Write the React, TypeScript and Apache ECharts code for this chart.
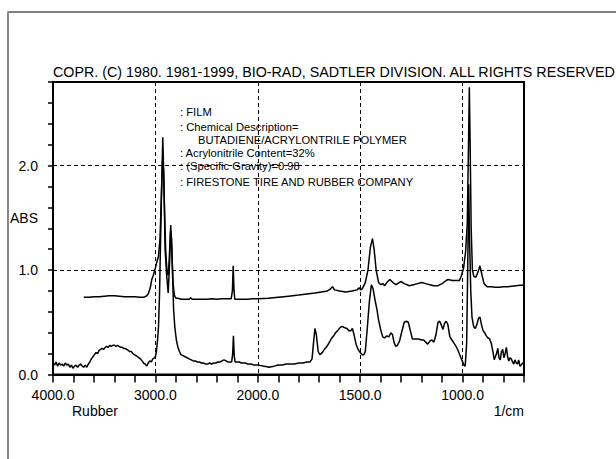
import React, { useEffect, useRef } from "react";
import * as echarts from "echarts";

// Sadtler-style IR spectrum: wavenumber (1/cm) vs absorbance, 2x expansion below 2000 1/cm
const titleText = "COPR. (C) 1980. 1981-1999, BIO-RAD, SADTLER DIVISION. ALL RIGHTS RESERVED";
const infoLines = [
  ": FILM",
  ": Chemical Description=",
  "BUTADIENE/ACRYLONTRILE POLYMER",
  ": Acrylonitrile Content=32%",
  ": (Specific Gravity)=0.98",
  ": FIRESTONE TIRE AND RUBBER COMPANY",
];
const xLabelValues = [4000, 3000, 2000, 1500, 1000];
const yLabelValues = [0, 1, 2];

// [wavenumber, absorbance]
const upperSpectrum: [number, number][] = [
  [3700, 0.74], [3650, 0.74], [3600, 0.745], [3550, 0.745], [3500, 0.75], [3450, 0.755],
  [3400, 0.755], [3350, 0.75], [3300, 0.745], [3250, 0.745], [3200, 0.745], [3150, 0.74],
  [3110, 0.74], [3090, 0.75], [3070, 0.77], [3050, 0.83], [3035, 0.91], [3020, 0.95],
  [3000, 1.02], [2985, 1.08], [2970, 1.13], [2955, 1.3], [2940, 1.75], [2928, 2.27],
  [2918, 1.9], [2905, 1.2], [2890, 0.95], [2875, 0.78], [2862, 1.05], [2850, 1.43],
  [2840, 1.2], [2828, 0.88], [2815, 0.76], [2800, 0.73], [2780, 0.73], [2750, 0.72],
  [2700, 0.72], [2670, 0.72], [2655, 0.735], [2640, 0.72], [2600, 0.72], [2550, 0.72],
  [2500, 0.72], [2450, 0.725], [2400, 0.72], [2350, 0.725], [2300, 0.725], [2260, 0.725],
  [2248, 0.8], [2240, 1.04], [2232, 0.8], [2225, 0.72], [2200, 0.72], [2150, 0.72],
  [2100, 0.72], [2050, 0.725], [2000, 0.725], [1950, 0.73], [1900, 0.74], [1850, 0.75],
  [1800, 0.76], [1760, 0.77], [1720, 0.78], [1690, 0.79], [1660, 0.8], [1645, 0.82],
  [1635, 0.84], [1625, 0.81], [1600, 0.8], [1570, 0.79], [1540, 0.8], [1515, 0.81],
  [1505, 0.83], [1498, 0.81], [1490, 0.82], [1475, 0.88], [1462, 1.0], [1450, 1.22],
  [1440, 1.3], [1432, 1.2], [1422, 1.0], [1410, 0.88], [1400, 0.86], [1390, 0.87],
  [1380, 0.85], [1370, 0.88], [1355, 0.91], [1340, 0.88], [1325, 0.86], [1310, 0.88],
  [1300, 0.89], [1285, 0.87], [1260, 0.85], [1240, 0.86], [1220, 0.87], [1200, 0.88],
  [1180, 0.87], [1160, 0.86], [1140, 0.85], [1120, 0.85], [1100, 0.87], [1080, 0.9],
  [1070, 0.91], [1050, 0.9], [1030, 0.9], [1015, 0.9], [1005, 0.95], [995, 1.02],
  [985, 1.18], [977, 1.45], [971, 2.2], [967, 2.75], [963, 2.2], [958, 1.4],
  [952, 1.0], [945, 0.94], [935, 0.93], [925, 0.98], [915, 1.04], [905, 0.95],
  [895, 0.87], [880, 0.84], [860, 0.84], [840, 0.835], [820, 0.835], [800, 0.84],
  [780, 0.84], [760, 0.845], [740, 0.85], [720, 0.855], [700, 0.855],
];

const lowerSpectrum: [number, number][] = [
  [4000, 0.11], [3985, 0.09], [3970, 0.12], [3955, 0.08], [3940, 0.11], [3925, 0.09],
  [3910, 0.1], [3895, 0.08], [3880, 0.11], [3865, 0.09], [3850, 0.1], [3835, 0.07],
  [3820, 0.09], [3805, 0.06], [3790, 0.08], [3775, 0.09], [3760, 0.07], [3745, 0.09],
  [3730, 0.1], [3715, 0.08], [3700, 0.07], [3685, 0.09], [3670, 0.07], [3655, 0.1],
  [3640, 0.12], [3625, 0.15], [3610, 0.17], [3595, 0.19], [3580, 0.21], [3565, 0.2],
  [3550, 0.23], [3535, 0.24], [3520, 0.25], [3505, 0.24], [3490, 0.26], [3475, 0.27],
  [3460, 0.26], [3445, 0.28], [3430, 0.27], [3415, 0.28], [3400, 0.28], [3385, 0.27],
  [3370, 0.28], [3355, 0.27], [3340, 0.26], [3325, 0.26], [3310, 0.25], [3295, 0.25],
  [3280, 0.24], [3265, 0.23], [3250, 0.22], [3235, 0.22], [3220, 0.2], [3205, 0.19],
  [3190, 0.18], [3175, 0.17], [3160, 0.16], [3145, 0.15], [3130, 0.13], [3115, 0.11],
  [3100, 0.1], [3085, 0.08], [3070, 0.11], [3055, 0.13], [3040, 0.12], [3025, 0.15],
  [3010, 0.16], [3000, 0.17], [2990, 0.22], [2980, 0.32], [2970, 0.45], [2960, 0.75],
  [2950, 1.25], [2940, 1.75], [2930, 2.05], [2920, 1.95], [2910, 1.55], [2900, 1.2],
  [2888, 1.0], [2876, 0.95], [2865, 1.1], [2852, 1.38], [2842, 1.3], [2832, 0.95],
  [2822, 0.62], [2810, 0.45], [2795, 0.33], [2780, 0.26], [2765, 0.22], [2750, 0.19],
  [2730, 0.18], [2710, 0.17], [2690, 0.16], [2670, 0.15], [2650, 0.14], [2630, 0.13],
  [2610, 0.13], [2590, 0.12], [2570, 0.12], [2550, 0.11], [2530, 0.11], [2510, 0.1],
  [2490, 0.1], [2470, 0.11], [2450, 0.1], [2430, 0.11], [2410, 0.11], [2390, 0.12],
  [2370, 0.12], [2350, 0.13], [2330, 0.14], [2310, 0.13], [2290, 0.12], [2270, 0.12],
  [2255, 0.12], [2245, 0.2], [2238, 0.37], [2230, 0.18], [2222, 0.12], [2200, 0.12],
  [2180, 0.12], [2160, 0.11], [2140, 0.11], [2120, 0.11], [2100, 0.1], [2080, 0.1],
  [2060, 0.1], [2040, 0.09], [2020, 0.09], [2000, 0.09], [1985, 0.085], [1970, 0.08],
  [1955, 0.075], [1945, 0.07], [1935, 0.075], [1920, 0.08], [1900, 0.09], [1880, 0.09],
  [1860, 0.1], [1840, 0.1], [1820, 0.1], [1800, 0.11], [1780, 0.11], [1760, 0.12],
  [1745, 0.12], [1735, 0.15], [1728, 0.3], [1721, 0.44], [1714, 0.38], [1705, 0.22],
  [1697, 0.19], [1685, 0.21], [1675, 0.24], [1662, 0.27], [1650, 0.31], [1638, 0.35],
  [1629, 0.37], [1620, 0.4], [1610, 0.42], [1598, 0.45], [1588, 0.46], [1578, 0.45],
  [1565, 0.44], [1555, 0.42], [1545, 0.42], [1538, 0.44], [1530, 0.38], [1520, 0.29],
  [1510, 0.24], [1500, 0.21], [1490, 0.19], [1482, 0.19], [1475, 0.22], [1465, 0.45],
  [1455, 0.7], [1445, 0.86], [1437, 0.82], [1428, 0.72], [1418, 0.62], [1410, 0.52],
  [1400, 0.43], [1390, 0.36], [1380, 0.35], [1370, 0.37], [1360, 0.36], [1350, 0.4],
  [1342, 0.38], [1335, 0.31], [1327, 0.27], [1318, 0.28], [1308, 0.32], [1298, 0.4],
  [1285, 0.5], [1275, 0.51], [1265, 0.5], [1255, 0.42], [1245, 0.34], [1230, 0.34],
  [1215, 0.34], [1200, 0.33], [1190, 0.33], [1180, 0.31], [1170, 0.29], [1160, 0.32],
  [1150, 0.33], [1140, 0.31], [1130, 0.38], [1120, 0.5], [1112, 0.51], [1105, 0.48],
  [1096, 0.43], [1088, 0.49], [1080, 0.51], [1072, 0.48], [1062, 0.36], [1052, 0.33],
  [1042, 0.3], [1032, 0.27], [1022, 0.23], [1012, 0.18], [1002, 0.13], [993, 0.09],
  [987, 0.08], [980, 0.3], [975, 1.0], [970, 1.82], [966, 1.3], [960, 0.8],
  [954, 0.55], [946, 0.46], [938, 0.44], [930, 0.48], [922, 0.54], [915, 0.55],
  [908, 0.48], [900, 0.42], [892, 0.4], [884, 0.37], [876, 0.35], [868, 0.34],
  [860, 0.3], [852, 0.22], [845, 0.14], [840, 0.17], [834, 0.2], [828, 0.25],
  [822, 0.16], [816, 0.14], [810, 0.22], [804, 0.24], [798, 0.16], [792, 0.2],
  [786, 0.26], [780, 0.17], [774, 0.13], [768, 0.16], [762, 0.15], [756, 0.12],
  [750, 0.1], [744, 0.14], [738, 0.11], [732, 0.1], [726, 0.14], [720, 0.08],
  [714, 0.09], [708, 0.11], [702, 0.1], [700, 0.1],
];

// piecewise axis transform: 4000..2000 compressed 2x relative to 2000..700
const wnToU = (w: number) => (w >= 2000 ? (4000 - w) / 2 : 1000 + (2000 - w));
const uToWn = (u: number) => (u <= 1000 ? 4000 - 2 * u : 2000 - (u - 1000));

const FONT = "'Liberation Sans', Arial, Helvetica, sans-serif";

export default function App() {
  const ref = useRef<HTMLDivElement>(null);

  useEffect(() => {
    if (!ref.current) return;
    const chart = echarts.init(ref.current, null, { renderer: "svg" });
    const toData = (s: [number, number][]) => s.map(([w, a]) => [wnToU(w), a]);

    const graphics: any[] = [
      { type: "line", shape: { x1: 7.5, y1: 12, x2: 616, y2: 12 }, style: { stroke: "#000", lineWidth: 1 } },
      { type: "line", shape: { x1: 8, y1: 12, x2: 8, y2: 459 }, style: { stroke: "#888", lineWidth: 2 } },
      {
        type: "text", x: 53, y: 72,
        style: { text: titleText, font: `14.3px ${FONT}`, fill: "#000", verticalAlign: "middle", align: "left" },
      },
      {
        type: "text", x: 10, y: 218,
        style: { text: "ABS", font: `14px ${FONT}`, fill: "#000", verticalAlign: "middle", align: "left" },
      },
      {
        type: "text", x: 72, y: 411,
        style: { text: "Rubber", font: `14px ${FONT}`, fill: "#000", verticalAlign: "middle", align: "left" },
      },
      {
        type: "text", x: 524, y: 411,
        style: { text: "1/cm", font: `14px ${FONT}`, fill: "#000", verticalAlign: "middle", align: "right" },
      },
    ];
    const infoY = [112, 127, 140, 153, 166, 181.5];
    const infoX = [180, 180, 198, 180, 180, 180];
    infoLines.forEach((t, i) => {
      graphics.push({
        type: "text", x: infoX[i], y: infoY[i], z: 1,
        style: { text: t, font: `11.2px ${FONT}`, fill: "#000", verticalAlign: "middle", align: "left" },
      });
    });

    const splitColors = ["#000", "transparent", "transparent", "transparent", "transparent"];

    chart.setOption({
      animation: false,
      backgroundColor: "#fff",
      grid: { left: 53, right: 92, top: 82, bottom: 84.5, show: true, borderColor: "#000", borderWidth: 2, backgroundColor: "transparent" },
      xAxis: {
        type: "value", min: 0, max: 2300, interval: 100,
        axisLine: { show: true, lineStyle: { color: "#000", width: 2 } },
        axisTick: { show: true, length: 8, lineStyle: { color: "#000", width: 1.5 } },
        axisLabel: {
          margin: 13, color: "#000", fontSize: 14, fontFamily: FONT,
          formatter: (u: number) => {
            const w = Math.round(uToWn(u));
            return xLabelValues.includes(w) && u % 500 === 0 ? w.toFixed(1) : "";
          },
        },
        splitLine: { show: true, lineStyle: { color: splitColors, width: 1, type: [4, 3] } },
      },
      yAxis: {
        type: "value", min: 0, max: 2.8, interval: 0.2,
        axisLine: { show: true, lineStyle: { color: "#000", width: 2 } },
        axisTick: { show: true, length: 5, lineStyle: { color: "#000", width: 1.5 } },
        axisLabel: {
          margin: 15, color: "#000", fontSize: 14, fontFamily: FONT,
          formatter: (v: number) => {
            const r = Math.round(v * 10) / 10;
            return yLabelValues.includes(r) ? r.toFixed(1) : "";
          },
        },
        splitLine: { show: true, lineStyle: { color: splitColors, width: 1, type: [4, 3] } },
      },
      series: [
        {
          type: "line", data: toData(upperSpectrum), showSymbol: false, symbol: "none",
          lineStyle: { color: "#000", width: 1.5 }, z: 3,
        },
        {
          type: "line", data: toData(lowerSpectrum), showSymbol: false, symbol: "none",
          lineStyle: { color: "#000", width: 1.5 }, z: 3,
        },
      ],
      graphic: graphics,
    });
    return () => chart.dispose();
  }, []);

  return (
    <div
      ref={ref}
      style={{ position: "fixed", left: 0, top: 0, width: 616, height: 459, background: "#fff" }}
    />
  );
}
